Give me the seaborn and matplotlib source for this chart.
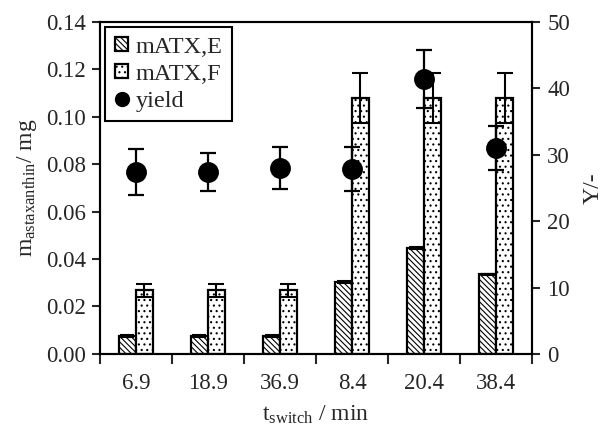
import numpy as np
import pandas as pd
import matplotlib
matplotlib.use("Agg")
import matplotlib.pyplot as plt
import seaborn as sns
from matplotlib.patches import Patch
from matplotlib.lines import Line2D
from matplotlib.ticker import FixedLocator

categories = ["6.9", "18.9", "36.9", "8.4", "20.4", "38.4"]
m_atx_e = [0.0075, 0.0075, 0.0075, 0.0303, 0.0447, 0.0336]
m_atx_e_err = [0.0003, 0.0003, 0.0003, 0.0004, 0.0003, 0.0003]
m_atx_f = [0.0268, 0.0268, 0.0268, 0.1080, 0.1080, 0.1080]
m_atx_f_err = [0.0026, 0.0026, 0.0026, 0.0105, 0.0105, 0.0105]
yield_vals = [27.4, 27.4, 28.0, 27.9, 41.4, 31.0]
yield_err = [3.5, 2.8, 3.1, 3.3, 4.4, 3.3]
series_names = ["mATX,E", "mATX,F"]

sns.set_style("white")
plt.rcParams["font.family"] = ["Liberation Serif", "DejaVu Serif"]
plt.rcParams["mathtext.fontset"] = "custom"
plt.rcParams["mathtext.rm"] = "Liberation Serif"
plt.rcParams["hatch.linewidth"] = 0.8

df = pd.DataFrame({
    "t": categories * 2,
    "m": m_atx_e + m_atx_f,
    "series": [series_names[0]] * 6 + [series_names[1]] * 6,
})

fig = plt.figure(figsize=(6.13, 4.29), dpi=100)
ax = fig.add_axes([0.163, 0.175, 0.705, 0.774])

sns.barplot(data=df, x="t", y="m", hue="series", order=categories,
            hue_order=series_names, width=0.47, palette=["white", "white"],
            edgecolor="black", linewidth=1.6, errorbar=None, legend=False, ax=ax)

hatches = {series_names[0]: "\\\\\\\\\\\\", series_names[1]: "..."}
n = len(categories)
bars = [p for p in ax.patches][: 2 * n]
for i, p in enumerate(bars):
    p.set_hatch(hatches[series_names[i // n]])

# error bars on bars
e_x = [bars[i].get_x() + bars[i].get_width() / 2 for i in range(n)]
f_x = [bars[n + i].get_x() + bars[n + i].get_width() / 2 for i in range(n)]
ax.errorbar(e_x, m_atx_e, yerr=m_atx_e_err, fmt="none", ecolor="black",
            elinewidth=1.5, capsize=5, capthick=1.5, zorder=5)
ax.errorbar(f_x, m_atx_f, yerr=m_atx_f_err, fmt="none", ecolor="black",
            elinewidth=1.5, capsize=6, capthick=1.5, zorder=5)

ax.set_xlim(-0.5, n - 0.5)
ax.set_ylim(0, 0.14)
ax.set_yticks(np.arange(0, 0.141, 0.02))
ax.set_yticklabels([f"{v:.2f}" for v in np.arange(0, 0.141, 0.02)])
ax.xaxis.set_minor_locator(FixedLocator(np.arange(-0.5, n, 1.0)))
ax.tick_params(axis="x", which="major", length=0, labelsize=16.5, pad=14)
ax.tick_params(axis="x", which="minor", length=7, width=1.5, direction="out", bottom=True)
ax.tick_params(axis="y", which="major", length=6, width=1.5, direction="out",
               labelsize=16.5, left=True, pad=4)
ax.set_xlabel(r"$\mathregular{t_{switch}}$ / min", fontsize=17)
ax.set_ylabel(r"$\mathregular{m_{astaxanthin}}$/ mg", fontsize=17)
ax.xaxis.set_label_coords(0.5, -0.15)
ax.yaxis.set_label_coords(-0.14, 0.5)
for s in ax.spines.values():
    s.set_linewidth(1.5)
    s.set_color("black")

ax2 = ax.twinx()
sns.pointplot(x=categories, y=yield_vals, order=categories, linestyle="none",
              markers="o", color="black", markersize=13, errorbar=None, ax=ax2)
ax2.errorbar(np.arange(n), yield_vals, yerr=yield_err, fmt="none", ecolor="black",
             elinewidth=1.6, capsize=6, capthick=1.6, zorder=6)
ax2.set_ylim(0, 50)
ax2.set_yticks(range(0, 51, 10))
ax2.tick_params(axis="y", length=6, width=1.5, direction="out", labelsize=16.5, right=True, pad=5)
ax2.set_ylabel("Y/-", fontsize=17)
ax2.yaxis.set_label_coords(1.118, 0.5)
ax2.set_xlim(-0.5, n - 0.5)
for s in ax2.spines.values():
    s.set_linewidth(1.5)
    s.set_color("black")

handles = [
    Patch(facecolor="white", edgecolor="black", hatch=hatches[series_names[0]], linewidth=1.6),
    Patch(facecolor="white", edgecolor="black", hatch=hatches[series_names[1]], linewidth=1.6),
    Line2D([], [], marker="o", color="black", linestyle="none", markersize=10),
]
leg = ax2.legend(handles, series_names + ["yield"], loc="upper left",
                 bbox_to_anchor=(0.012, 0.985), fontsize=17.5, frameon=True,
                 fancybox=False, edgecolor="black", handlelength=0.55,
                 handleheight=0.55, handletextpad=0.3, borderpad=0.4,
                 labelspacing=0.25, borderaxespad=0.0)
leg.get_frame().set_linewidth(1.5)
leg.get_frame().set_alpha(1)

fig.savefig("out.png", dpi=100)
